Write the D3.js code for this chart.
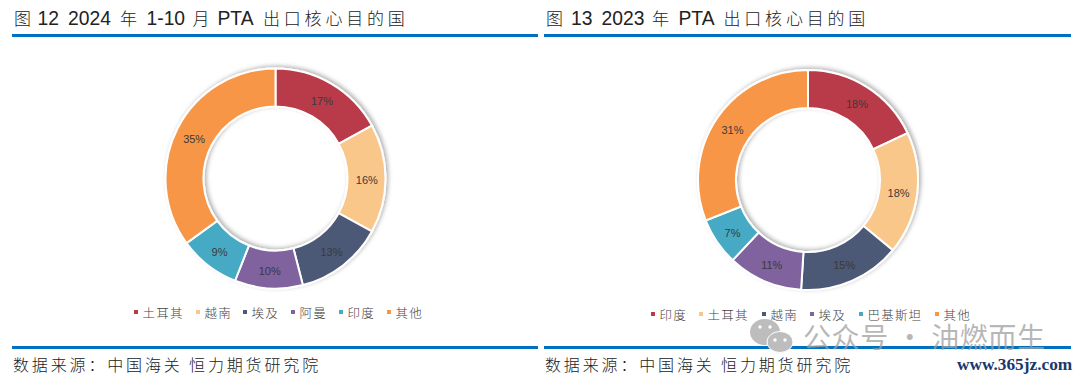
<!DOCTYPE html>
<html><head><meta charset="utf-8">
<script src="https://cdn.jsdelivr.net/npm/d3@7"></script>
<style>html,body{margin:0;padding:0;background:#fff}svg{display:block}</style>
</head><body><svg id="c" width="1080" height="381"></svg>
<script>
const titleA = ["图","12","2024","年","1-10","月","PTA","出口核心目的国"];
const titleB = ["图","13","2023","年","PTA","出口核心目的国"];
const catsA = ["土耳其","越南","埃及","阿曼","印度","其他"];
const valsA = [17,16,13,10,9,35];
const catsB = ["印度","土耳其","越南","埃及","巴基斯坦","其他"];
const valsB = [18,18,15,11,7,31];
const colors = ["#b93a48","#fac78a","#4b5876","#7f629e","#46aac4","#f79646"];
const source = "数据来源\uFF1A中国海关 恒力期货研究院";

const svg = d3.select("#c");
const latin = "'Liberation Sans',Arial,sans-serif";
const cjk = "'Noto Sans CJK SC','Noto Sans',sans-serif";
const isCjk = s => /[\u4e00-\u9fff]/.test(s);
const f = svg.append("defs").append("filter").attr("id","sh").attr("x","-20%").attr("y","-20%").attr("width","140%").attr("height","140%");
f.append("feDropShadow").attr("dx",2).attr("dy",-1.5).attr("stdDeviation",2.2).attr("flood-color","#000").attr("flood-opacity",0.3);

function title(parts, xs){
  parts.forEach((s,i)=>{
    const c = isCjk(s);
    svg.append("text").attr("x",xs[i]).attr("y",25)
      .attr("font-family",c?cjk:latin).attr("font-weight",c?300:400)
      .attr("font-size",c?17:19.3).attr("letter-spacing",c?3.8:0)
      .attr("fill","#222").text(s);
  });
}
function panel(x0,x1,parts,xs,cats,vals,cx,cy,R,legendXs,legendY){
  title(parts,xs);
  svg.append("rect").attr("x",x0).attr("y",34).attr("width",x1-x0).attr("height",3).attr("fill","#0070c0");
  svg.append("rect").attr("x",x0).attr("y",346).attr("width",x1-x0).attr("height",3).attr("fill","#0070c0");
  svg.append("text").attr("x",x0+1).attr("y",371).attr("font-family",cjk).attr("font-weight",300)
     .attr("font-size",16).attr("letter-spacing",2.85).attr("fill","#222").text(source);
  const pie = d3.pie().sort(null).value(d=>d);
  const arc = d3.arc().innerRadius(R*0.655).outerRadius(R);
  const g = svg.append("g").attr("transform",`translate(${cx},${cy})`);
  g.append("g").attr("filter","url(#sh)").selectAll("path").data(pie(vals)).join("path")
    .attr("d",arc).attr("fill",(d,i)=>colors[i]).attr("stroke","#fff").attr("stroke-width",2);
  const lab = d3.arc().innerRadius(R*0.83).outerRadius(R*0.83);
  g.selectAll("text").data(pie(vals)).join("text")
    .attr("transform",d=>`translate(${lab.centroid(d)})`).attr("text-anchor","middle").attr("dy","0.5em")
    .attr("font-family",latin).attr("font-size",11).attr("fill","#3a3a3a").text(d=>d.data+"%");
  cats.forEach((c,i)=>{
    svg.append("rect").attr("x",legendXs[i]).attr("y",legendY-3).attr("width",4).attr("height",4).attr("fill",colors[i]);
    svg.append("text").attr("x",legendXs[i]+8.5).attr("y",legendY+4.5).attr("font-family",cjk).attr("font-weight",300)
      .attr("font-size",12.5).attr("letter-spacing",1.2).attr("fill","#444").text(c);
  });
}
panel(12,538,titleA,[14,37.5,68,120,146.5,192.5,217.5,263],catsA,valsA,275.5,178.5,110,[134,196,243,291,339,387],313);
panel(544,1071,titleB,[546,571,601.5,652,678.5,723.5],catsB,valsB,808,180,110,[651,699,762,810,859,935],315);

// watermark
const wm = svg.append("g");
wm.append("ellipse").attr("cx",765).attr("cy",332).attr("rx",15).attr("ry",13).attr("fill","#bdbdbd");
wm.append("ellipse").attr("cx",780).attr("cy",342).attr("rx",13).attr("ry",10.5).attr("fill","#bdbdbd").attr("stroke","#fff").attr("stroke-width",1);
[[760,327],[770,327],[775,340],[785,340]].forEach(p=>wm.append("circle").attr("cx",p[0]).attr("cy",p[1]).attr("r",1.7).attr("fill","#fff"));
wm.append("text").attr("x",803).attr("y",348).attr("font-family",cjk).attr("font-size",28).attr("letter-spacing",0.6).attr("fill","#a0a0a0").attr("fill-opacity",0.75).text("公众号 · 油燃而生");
svg.append("text").attr("x",957).attr("y",370).attr("font-family","'Liberation Serif','DejaVu Serif',serif").attr("font-weight",700).attr("font-size",17.3).attr("fill","#17386f").text("www.365jz.com");
</script></body></html>
